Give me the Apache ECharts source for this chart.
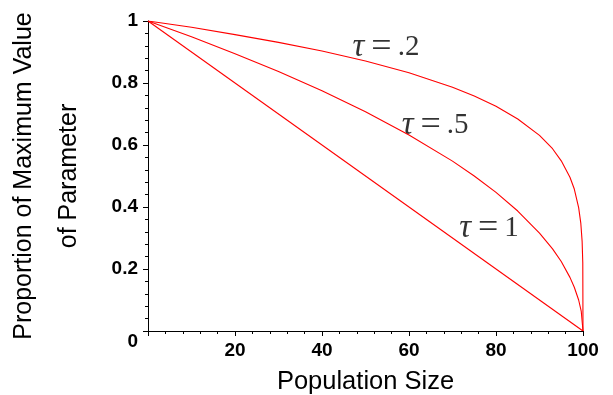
<!DOCTYPE html>
<html>
<head>
<meta charset="utf-8">
<script src="https://cdn.jsdelivr.net/npm/echarts@6/dist/echarts.min.js"></script>
<style>
  html, body { margin: 0; padding: 0; background: #fff; }
  #chart { width: 613px; height: 395px; }
</style>
</head>
<body>
<div id="chart"></div>
<script>
// values: population size vs proportion of max value
const tau02 = [
  [0, 1], [10, 0.98], [20, 0.956], [30, 0.931], [40, 0.903], [50, 0.871],
  [60, 0.833], [70, 0.786], [75, 0.758], [80, 0.725], [85, 0.684], [90, 0.631],
  [93, 0.588], [95, 0.549], [97, 0.496], [98, 0.458], [99, 0.398],
  [99.5, 0.347], [99.8, 0.289], [99.95, 0.22], [100, 0]
];
const tau05 = [
  [0, 1], [10, 0.949], [20, 0.894], [30, 0.837], [40, 0.775], [50, 0.707],
  [60, 0.632], [70, 0.548], [75, 0.5], [80, 0.447], [85, 0.387], [90, 0.316],
  [93, 0.265], [95, 0.224], [97, 0.173], [98, 0.141], [99, 0.1],
  [99.6, 0.063], [100, 0]
];
const tau1 = [[0, 1], [100, 0]];

// curve labels: [x, y, text]
const curveLabels = [
  [54.7, 0.915, '.2'],
  [66, 0.662, '.5'],
  [78.4, 0.33, '1']
];

const xTicks = [0, 20, 40, 60, 80, 100];
const yTicks = [0, 0.2, 0.4, 0.6, 0.8, 1];

const myChart = echarts.init(document.getElementById('chart'));

const lineStyle = { color: '#ff0000', width: 1.1 };
const tickFont = { fontFamily: 'Liberation Sans', fontWeight: 'bold', fontSize: 19, color: '#000' };
const serif = { fontFamily: 'Liberation Serif', color: '#000', lineHeight: 36, textBorderWidth: 0 };

const option = {
  backgroundColor: '#fff',
  animation: false,
  grid: { left: 148, right: 30, top: 21, bottom: 64, containLabel: false, outerBoundsMode: 'none' },
  xAxis: {
    type: 'value',
    min: xTicks[0],
    max: xTicks[xTicks.length - 1],
    interval: 20,
    name: 'Population Size',
    nameLocation: 'middle',
    nameGap: 38,
    nameTextStyle: { fontFamily: 'Liberation Sans', fontSize: 25.5, color: '#000' },
    axisLine: { lineStyle: { color: '#000', width: 1 } },
    axisTick: { show: true, length: 5, lineStyle: { color: '#000' } },
    minorTick: { show: true, splitNumber: 5, length: 3, lineStyle: { color: '#000' } },
    splitLine: { show: false },
    axisLabel: Object.assign({
      margin: 10,
      formatter: v => (v === 0 ? '' : String(v))
    }, tickFont)
  },
  yAxis: {
    type: 'value',
    min: yTicks[0],
    max: yTicks[yTicks.length - 1],
    interval: 0.2,
    name: 'Proportion of Maximum Value\nof Parameter',
    nameLocation: 'middle',
    nameGap: 56,
    nameRotate: 90,
    nameTextStyle: { fontFamily: 'Liberation Sans', fontSize: 25, color: '#000', lineHeight: 45 },
    axisLine: { show: true, lineStyle: { color: '#000', width: 1 } },
    axisTick: { show: true, length: 5, lineStyle: { color: '#000' } },
    minorTick: { show: true, splitNumber: 5, length: 3, lineStyle: { color: '#000' } },
    splitLine: { show: false },
    axisLabel: Object.assign({
      margin: 10,
      formatter: v => (v === 0 ? '{z|0}' : String(v)),
      rich: {
        z: Object.assign({ padding: [22, 0, 0, 0] }, tickFont)
      }
    }, tickFont)
  },
  series: [
    { type: 'line', data: tau02, symbol: 'none', lineStyle: lineStyle },
    { type: 'line', data: tau05, symbol: 'none', lineStyle: lineStyle },
    { type: 'line', data: tau1, symbol: 'none', lineStyle: lineStyle },
    {
      type: 'scatter',
      data: curveLabels.map(d => ({ value: [d[0], d[1]], name: d[2] })),
      symbolSize: 0,
      silent: true,
      label: {
        show: true,
        position: 'inside',
        color: '#000',
        textBorderWidth: 0,
        formatter: p => '{t|\u03c4}{e|=}{n|' + p.name + '}',
        rich: {
          t: Object.assign({ fontStyle: 'italic', fontSize: 33 }, serif),
          e: Object.assign({ fontSize: 36, padding: [0, 6, 0, 7] }, serif),
          n: Object.assign({ fontSize: 29 }, serif)
        }
      }
    }
  ]
};

myChart.setOption(option);
</script>
</body>
</html>
